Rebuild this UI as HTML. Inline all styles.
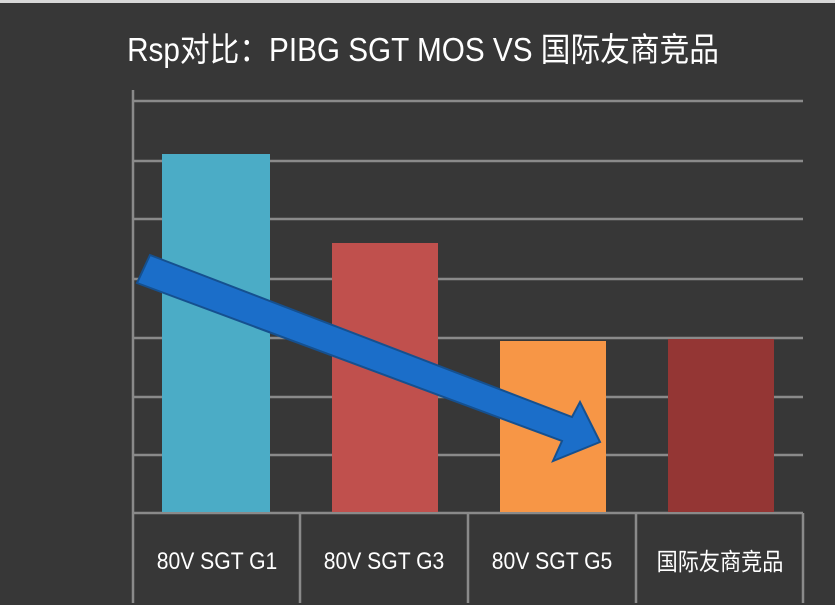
<!DOCTYPE html>
<html><head><meta charset="utf-8"><style>
html,body{margin:0;padding:0}
body{width:835px;height:605px;background:#373737;position:relative;overflow:hidden;font-family:"Liberation Sans","Noto Sans CJK SC",sans-serif;color:#fff}
.t{position:absolute;top:30px;left:5px;width:835px;text-align:center;font-size:33px;line-height:40px;transform:scaleX(0.9);transform-origin:423px 0}
.lab{position:absolute;top:547px;width:168px;height:30px;line-height:30px;text-align:center;font-size:24px;transform:scaleX(0.88)}
</style></head><body>
<div style="position:absolute;left:0;top:0;width:835px;height:3px;background:#d8d8d8"></div>
<div class="t">Rsp对比：PIBG SGT MOS VS 国际友商竞品</div>
<svg width="835" height="605" style="position:absolute;left:0;top:0">
<g stroke="#8a8a8a" stroke-width="2.5">
<line x1="133" y1="101" x2="803" y2="101"/><line x1="133" y1="161" x2="803" y2="161"/>
<line x1="133" y1="219" x2="803" y2="219"/><line x1="133" y1="279" x2="803" y2="279"/>
<line x1="133" y1="338" x2="803" y2="338"/><line x1="133" y1="397" x2="803" y2="397"/>
<line x1="133" y1="455" x2="803" y2="455"/><line x1="133" y1="513" x2="803" y2="513"/>
<line x1="133" y1="90" x2="133" y2="603"/><line x1="300" y1="513" x2="300" y2="603"/>
<line x1="468" y1="513" x2="468" y2="603"/><line x1="636" y1="513" x2="636" y2="603"/>
<line x1="803" y1="513" x2="803" y2="603"/>
</g>
<rect x="162" y="154" width="108" height="358" fill="#4bacc6"/>
<rect x="332" y="243" width="106" height="269" fill="#c0504d"/>
<rect x="500" y="341" width="106" height="171" fill="#f79646"/>
<rect x="668" y="339" width="106" height="173" fill="#943634"/>
<polygon points="150,255 572,417 580,402 600,442 553,461 562,441 137,283" fill="#1b6ec9" stroke="#15508f" stroke-width="2"/>
</svg>
<div class="lab" style="left:133px">80V SGT G1</div>
<div class="lab" style="left:300px">80V SGT G3</div>
<div class="lab" style="left:468px">80V SGT G5</div>
<div class="lab" style="left:636px;top:548px">国际友商竞品</div>
</body></html>
